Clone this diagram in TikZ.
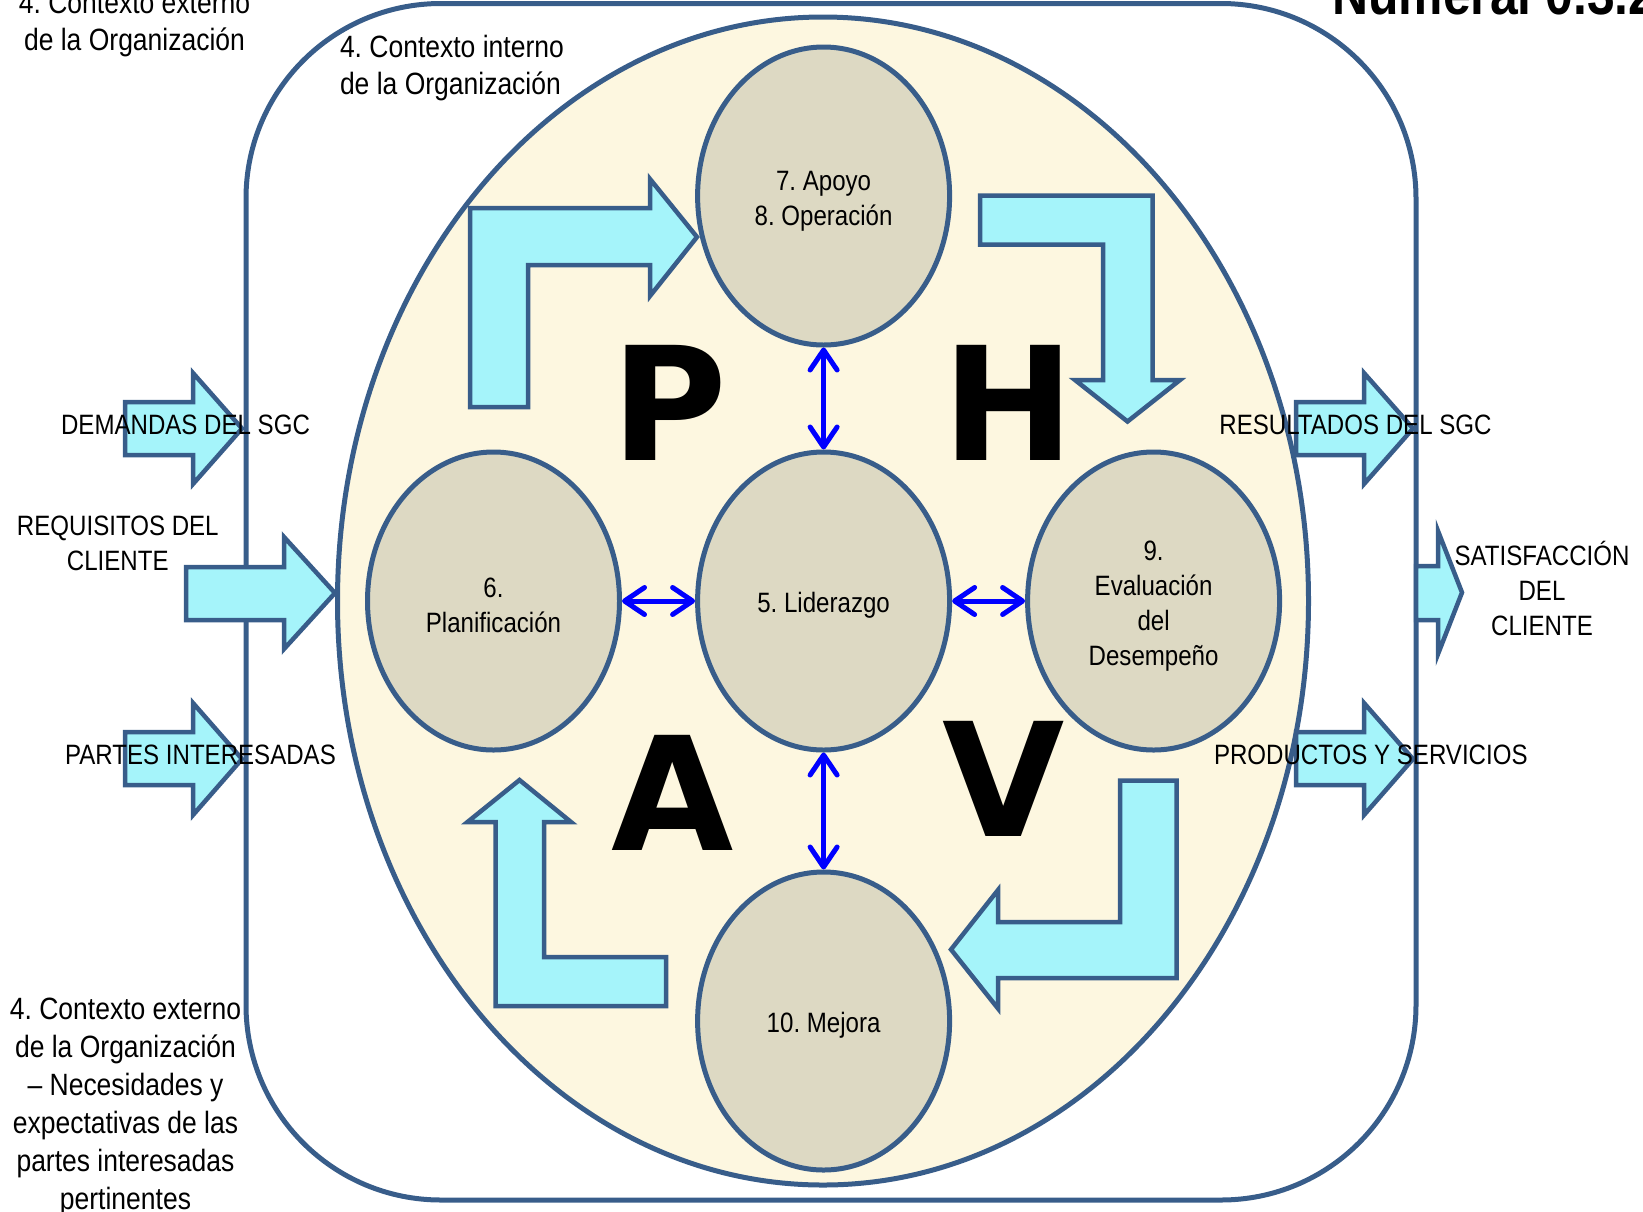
\documentclass[tikz,border=0pt]{standalone}
\usepackage{fontspec}
\setmainfont{Liberation Sans}[FakeStretch=0.86]
\newfontfamily\phva{DejaVu Sans}
\usetikzlibrary{shapes.geometric,arrows.meta}
\frenchspacing

\definecolor{linecol}{HTML}{385D8A}
\definecolor{cyanfill}{HTML}{A5F4FA}
\definecolor{cream}{HTML}{FDF7E0}
\definecolor{tan}{HTML}{DDD9C3}

\newcommand{\lblfont}{\fontsize{28}{35}\selectfont}
\newcommand{\ctxfont}{\fontsize{30.8}{37.5}\selectfont}
\newcommand{\ctxlongfont}{\fontsize{30.8}{38}\selectfont}
\newcommand{\phvafont}{\phva\bfseries\fontsize{158}{158}\selectfont}
\newcommand{\headfont}{\bfseries\fontsize{58}{60}\selectfont}
% invisible strut that lowers the text block inside a clause ellipse
\newcommand{\toppad}{\rule{0pt}{29pt}}

\tikzset{
  frame/.style={draw=linecol, line width=5pt},
  innerctx/.style={draw=linecol, fill=cream, line width=5pt},
  blockarrow/.style={draw=linecol, fill=cyanfill, line width=4.5pt, line join=miter},
  phase/.style={ellipse, draw=linecol, fill=tan, line width=5pt,
    minimum width=252pt, minimum height=298pt, inner sep=0pt,
    align=center, font=\lblfont},
  link/.style={draw=blue, line width=5pt,
    {Straight Barb[length=20pt,width=27pt,round]}-{Straight Barb[length=20pt,width=27pt,round]}},
  letter/.style={font=\phvafont, anchor=base, inner sep=0pt},
  lbl/.style={font=\lblfont, inner sep=0pt, align=center},
  ctx/.style={font=\ctxfont, inner sep=0pt, align=center},
}

\begin{document}
\begin{tikzpicture}[x=1pt,y=-1pt]
\useasboundingbox (0,0) rectangle (1643,1211);
\clip (0,0) rectangle (1643,1211);

% external context frame and internal context
\draw[frame, rounded corners=195pt] (246,3.5) rectangle (1416,1200);
\draw[innerctx] (823,601) ellipse [x radius=485.5, y radius=584];

% PHVA cycle arrows
\draw[blockarrow] (470,407) -- (470,208) -- (650,208) -- (650,179) -- (697,237)
  -- (650,296) -- (650,265) -- (528,265) -- (528,407) -- cycle;
\draw[blockarrow] (980,195.5) -- (1152.5,195.5) -- (1152.5,380) -- (1180,380)
  -- (1127.5,421.5) -- (1075,380) -- (1103,380) -- (1103,244.5) -- (980,244.5) -- cycle;
\draw[blockarrow] (1120,780.5) -- (1176.5,780.5) -- (1176.5,978) -- (998,978)
  -- (998,1008.5) -- (951,949.5) -- (998,890) -- (998,922) -- (1120,922) -- cycle;
\draw[blockarrow] (666,957) -- (666,1006) -- (495.5,1006) -- (495.5,822)
  -- (467.5,822) -- (519.5,780) -- (571,822) -- (544,822) -- (544,957) -- cycle;

% inputs
\draw[blockarrow] (125,402) -- (193,402) -- (193,373) -- (242,428.5) -- (193,484)
  -- (193,455) -- (125,455) -- cycle;
\draw[blockarrow] (186,567) -- (284,567) -- (284,537) -- (335,593) -- (284,649)
  -- (284,620) -- (186,620) -- cycle;
\draw[blockarrow] (125,732) -- (193,732) -- (193,703) -- (242,759) -- (193,815)
  -- (193,785) -- (125,785) -- cycle;

% outputs
\draw[blockarrow] (1296,402) -- (1364,402) -- (1364,373) -- (1413,428.5) -- (1364,484)
  -- (1364,455) -- (1296,455) -- cycle;
\draw[blockarrow] (1296,732) -- (1364,732) -- (1364,703) -- (1413,759) -- (1364,815)
  -- (1364,785) -- (1296,785) -- cycle;
\draw[blockarrow] (1416,566) -- (1438,566) -- (1438,531) -- (1462,592.5) -- (1438,654)
  -- (1438,620) -- (1416,620) -- cycle;

% clauses
\node[phase] (apoyo)  at (823.6,196)   {\toppad 7. Apoyo\\8. Operación};
\node[phase] (lider)  at (823.6,601)   {\toppad 5. Liderazgo};
\node[phase] (plan)   at (493.5,601)   {\toppad 6.\\Planificación};
\node[phase] (eval)   at (1153.6,601)  {\toppad 9.\\Evaluación\\del\\Desempeño};
\node[phase] (mejora) at (823.6,1021)  {\toppad 10. Mejora};

\draw[link] (apoyo) -- (lider);
\draw[link] (plan) -- (lider);
\draw[link] (lider) -- (eval);
\draw[link] (lider) -- (mejora);

% PHVA letters
\node[letter] (lp) at (669,460) {P};
\node[letter] (lh) at (1008.5,460) {H};
\node[letter] (la) at (672.8,850) {A};
\node[letter] (lv) at (1003.8,836) {V};

% labels
\node[lbl, anchor=base] (dem) at (185.5,434) {DEMANDAS DEL SGC};
\node[lbl] (req) at (117.8,543) {REQUISITOS DEL\\CLIENTE};
\node[lbl, anchor=base] (par) at (200.5,764) {PARTES INTERESADAS};
\node[lbl, anchor=base] (res) at (1355.5,434) {RESULTADOS DEL SGC};
\node[lbl] (sat) at (1542,588) {SATISFACCIÓN\\DEL\\CLIENTE};
\node[lbl, anchor=base] (pro) at (1370.8,764) {PRODUCTOS Y SERVICIOS};

\node[ctx] (extTop) at (134.5,24.6) {4. Contexto externo\\de la Organización};
\node[ctx, align=left, anchor=west] (intctx) at (339.8,68) {4. Contexto interno\\de la Organización};
\node[ctx, font=\ctxlongfont] (extBot) at (125.5,1106.5) {4. Contexto externo\\de la Organización\\– Necesidades y\\expectativas de las\\partes interesadas\\pertinentes};

\node[font=\headfont, anchor=base west, inner sep=0pt] (head) at (1332,14) {Numeral 0.3.2};
\end{tikzpicture}
\end{document}
